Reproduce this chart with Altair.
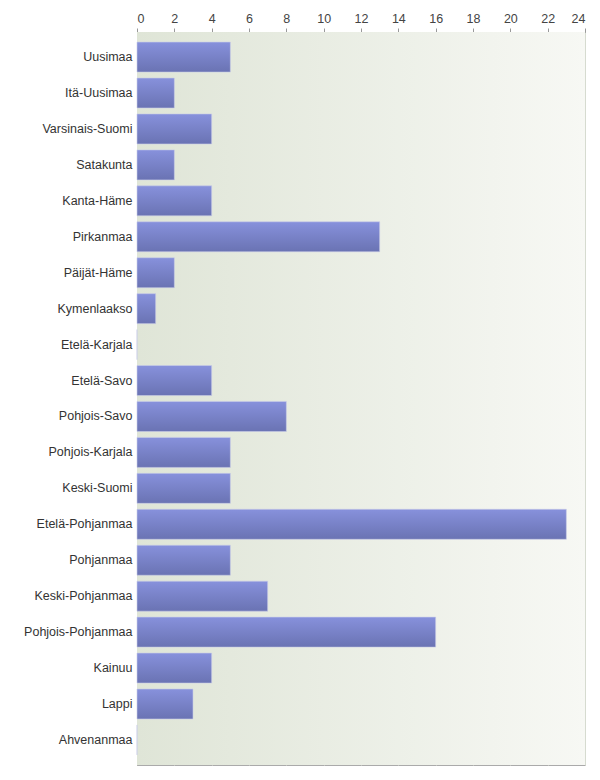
import altair as alt
import pandas as pd

regions = ["Uusimaa", "Itä-Uusimaa", "Varsinais-Suomi", "Satakunta", "Kanta-Häme",
           "Pirkanmaa", "Päijät-Häme", "Kymenlaakso", "Etelä-Karjala", "Etelä-Savo",
           "Pohjois-Savo", "Pohjois-Karjala", "Keski-Suomi", "Etelä-Pohjanmaa",
           "Pohjanmaa", "Keski-Pohjanmaa", "Pohjois-Pohjanmaa", "Kainuu", "Lappi",
           "Ahvenanmaa"]
counts = [5, 2, 4, 2, 4, 13, 2, 1, 0, 4, 8, 5, 5, 23, 5, 7, 16, 4, 3, 0]
x_ticks = list(range(0, 25, 2))

df = pd.DataFrame({"region": regions, "count": counts})

W, H = 448, 733

bg = alt.Chart(pd.DataFrame({"a": [0]})).mark_rect(
    color={"gradient": "linear", "x1": 0, "y1": 0, "x2": 1, "y2": 0,
           "stops": [{"offset": 0, "color": "#dfe5d7"},
                     {"offset": 1, "color": "#f7f8f4"}]}
).encode(x=alt.value(0), x2=alt.value(W), y=alt.value(0), y2=alt.value(H))

bars = alt.Chart(df).mark_bar(
    color={"gradient": "linear", "x1": 0, "y1": 0, "x2": 0, "y2": 1,
           "stops": [{"offset": 0, "color": "#8791dc"},
                     {"offset": 1, "color": "#6a73b3"}]},
    stroke="#c9cde8", strokeWidth=0.6
).encode(
    x=alt.X("count:Q",
            scale=alt.Scale(domain=[0, 24], nice=False),
            axis=alt.Axis(orient="top", values=x_ticks, title=None, grid=True,
                          gridColor="#d6dbd0", gridWidth=1,
                          domainColor="#999999", tickColor="#999999",
                          tickSize=4, labelColor="#444444", labelFontSize=12.5,
                          labelFont="Liberation Sans", labelPadding=3)),
    y=alt.Y("region:N", sort=regions,
            scale=alt.Scale(paddingInner=0.165, paddingOuter=0.28),
            axis=alt.Axis(title=None, ticks=False, domainColor="#999999",
                          labelColor="#333333", labelFontSize=12.5,
                          labelFont="Liberation Sans", labelPadding=5)),
)

chart = alt.layer(bg, bars).properties(
    width=W, height=H,
    autosize=alt.AutoSizeParams(type="none"),
    padding={"left": 137, "top": 32, "right": 15, "bottom": 15},
).configure_view(stroke="#aaaaaa", strokeWidth=1)

chart.save("out.html", embed_options={"renderer": "svg", "actions": False})
